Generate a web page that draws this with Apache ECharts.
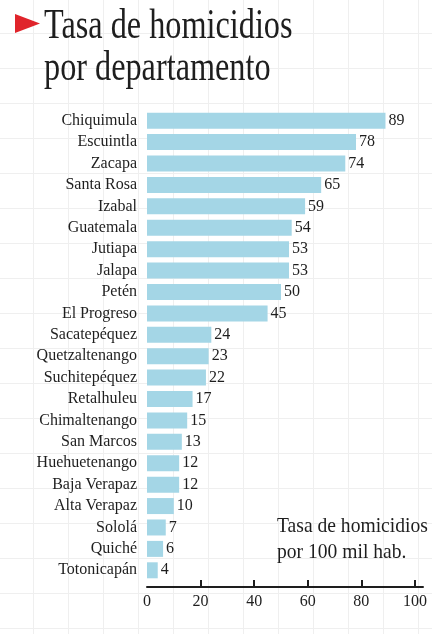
<!DOCTYPE html>
<html>
<head>
<meta charset="utf-8">
<script src="https://cdn.jsdelivr.net/npm/echarts@6/dist/echarts.min.js"></script>
<style>
  html, body { margin: 0; padding: 0; }
  body {
    width: 432px; height: 634px;
    background-color: #fff;
    background-image:
      linear-gradient(to right, #efefef 1px, transparent 1px),
      linear-gradient(to bottom, #efefef 1px, transparent 1px);
    background-size: 35px 35px;
    background-position: -2px -2px;
  }
  #chart { width: 432px; height: 634px; }
</style>
</head>
<body>
<div id="chart"></div>
<script>
// departamentos, de mayor a menor tasa
var departamentos = ['Chiquimula', 'Escuintla', 'Zacapa', 'Santa Rosa', 'Izabal', 'Guatemala',
  'Jutiapa', 'Jalapa', 'Petén', 'El Progreso', 'Sacatepéquez', 'Quetzaltenango',
  'Suchitepéquez', 'Retalhuleu', 'Chimaltenango', 'San Marcos', 'Huehuetenango',
  'Baja Verapaz', 'Alta Verapaz', 'Sololá', 'Quiché', 'Totonicapán']
var tasas = [89, 78, 74, 65, 59, 54, 53, 53, 50, 45, 24, 23, 22, 17, 15, 13, 12, 12, 10, 7, 6, 4]
var ticksX = [0, 20, 40, 60, 80, 100]

var font = '"Liberation Serif", "DejaVu Serif", serif'
var ink = '#1e1e1e'

var chart = echarts.init(document.getElementById('chart'))

var option = {
  animation: false,
  textStyle: { fontFamily: font },
  grid: { left: 147, right: 9, top: 110, bottom: 53 },
  xAxis: {
    type: 'value',
    min: 0,
    max: 103,
    offset: 6,
    splitLine: { show: false },
    axisLine: { show: true, lineStyle: { color: ink, width: 2 } },
    axisTick: {
      show: true,
      inside: true,
      length: 7,
      lineStyle: { color: ink, width: 2 },
      customValues: ticksX.slice(1),
    },
    axisLabel: {
      customValues: ticksX,
      margin: 7,
      fontSize: 16,
      color: ink,
      fontFamily: font,
    },
  },
  yAxis: {
    type: 'category',
    inverse: true,
    data: departamentos,
    axisLine: { show: false },
    axisTick: { show: false },
    axisLabel: { margin: 10, fontSize: 16, color: ink, fontFamily: font },
  },
  series: [
    {
      type: 'bar',
      data: tasas,
      barWidth: 16,
      itemStyle: { color: '#a4d6e6' },
      label: {
        show: true,
        position: 'right',
        distance: 3,
        fontSize: 16,
        color: ink,
        fontFamily: font,
      },
    },
  ],
  graphic: [
    // triangulo rojo del titulo
    {
      type: 'polygon',
      shape: { points: [[15, 14], [15, 33], [40, 23.5]] },
      style: { fill: '#e0242b' },
    },
    {
      type: 'text',
      left: 44,
      top: 5,
      scaleX: 0.75,
      style: {
        text: 'Tasa de homicidios\npor departamento',
        font: '43px ' + font,
        lineHeight: 42,
        fill: ink,
      },
    },
    // nota de unidades
    {
      type: 'text',
      left: 277,
      top: 513,
      scaleX: 0.89,
      style: {
        text: 'Tasa de homicidios\npor 100 mil hab.',
        font: '22px ' + font,
        lineHeight: 26,
        fill: ink,
      },
    },
  ],
}

chart.setOption(option)
</script>
</body>
</html>
